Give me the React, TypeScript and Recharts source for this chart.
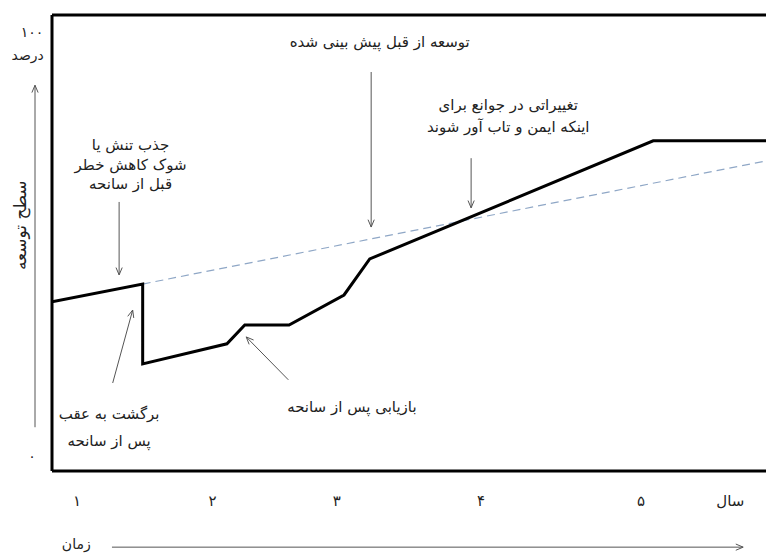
import React from 'react';
import { LineChart, Line, XAxis, YAxis, ReferenceLine, ReferenceDot } from 'recharts';

// Actual development path (time 0-100, level 0-100%)
const actualX = [0, 12.7, 12.7, 24.5, 27.0, 33.2, 40.9, 44.5, 84.2, 100];
const actualY = [37.1, 41.0, 23.5, 27.9, 32.0, 32.0, 38.6, 46.5, 72.4, 72.4];
// Previously planned development path
const plannedX = [12.7, 100];
const plannedY = [41.0, 68.0];

const xTickValues = [3.5, 22.5, 39.9, 60.1, 82.5, 95.0];
const xTickLabels = ['۱', '۲', '۳', '۴', '۵', 'سال'];
const yTickValues = [3.3, 96.3];
const yTickLabels = ['۰', '۱۰۰'];

// annotation texts: [x, y, text, rotate, size]
const noteTexts: [number, number, string, number, number][] = [
  [11.0, 71.5, 'جذب تنش یا', 0, 15],
  [11.0, 67.1, 'شوک کاهش خطر', 0, 15],
  [11.0, 63.0, 'قبل از سانحه', 0, 15],
  [45.9, 94.1, 'توسعه از قبل پیش بینی شده', 0, 15],
  [63.9, 80.3, 'تغییراتی در جوانع برای', 0, 15],
  [63.9, 75.4, 'اینکه ایمن و تاب آور شوند', 0, 15],
  [8.0, 12.5, 'برگشت به عقب', 0, 15],
  [8.0, 6.6, 'پس از سانحه', 0, 15],
  [42.0, 14.0, 'بازیابی پس از سانحه', 0, 15],
  [-4.5, 53.9, 'سطح توسعه', -90, 17],
  [3.4, -16.0, 'زمان', 0, 14],
  [-3.4, 91.2, 'درصد', 0, 14],
];

// annotation arrows: [x1, y1, x2, y2] (arrowhead at second point)
const noteArrows: [number, number, number, number][] = [
  [9.4, 59.0, 9.4, 43.0],
  [44.7, 87.5, 44.7, 53.5],
  [58.7, 68.6, 58.7, 57.7],
  [8.5, 19.3, 11.3, 35.3],
  [33.1, 20.0, 27.2, 29.4],
  [-2.38, 9.6, -2.38, 84.6],
  [8.4, -16.7, 96.8, -16.7],
];

const actualData = actualX.map((x, i) => ({ x, y: actualY[i] }));
const plannedData = plannedX.map((x, i) => ({ x, y: plannedY[i] }));

const FONT = 'DejaVu Sans';

const ArrowShape = (props: any) => {
  const { x1, y1, x2, y2 } = props;
  if ([x1, y1, x2, y2].some((v) => typeof v !== 'number' || isNaN(v))) return <g />;
  const ang = Math.atan2(y2 - y1, x2 - x1);
  const L = 8;
  const a1 = ang + Math.PI - 0.4;
  const a2 = ang + Math.PI + 0.4;
  const d = `M${x2 + L * Math.cos(a1)},${y2 + L * Math.sin(a1)} L${x2},${y2} L${x2 + L * Math.cos(a2)},${y2 + L * Math.sin(a2)}`;
  return (
    <g>
      <line x1={x1} y1={y1} x2={x2} y2={y2} stroke="#555" strokeWidth={1} />
      <path d={d} fill="none" stroke="#555" strokeWidth={1} />
    </g>
  );
};

const makeTextShape = (text: string, rotate: number, size: number) => (props: any) => {
  const { cx, cy } = props;
  return (
    <text
      x={cx}
      y={cy}
      textAnchor="middle"
      dominantBaseline="central"
      fontFamily={FONT}
      fontSize={size}
      fill="#222"
      transform={rotate ? `rotate(${rotate} ${cx} ${cy})` : undefined}
    >
      {text}
    </text>
  );
};

const XTick = (props: any) => {
  const { x, y, payload } = props;
  const i = xTickValues.indexOf(payload.value);
  return (
    <text x={x} y={y + 22} textAnchor="middle" dominantBaseline="central" fontFamily={FONT} fontSize={15} fill="#222">
      {xTickLabels[i]}
    </text>
  );
};

const YTick = (props: any) => {
  const { x, y, payload } = props;
  const i = yTickValues.indexOf(payload.value);
  return (
    <text x={x - 12} y={y} textAnchor="middle" dominantBaseline="central" fontFamily={FONT} fontSize={14} fill="#222">
      {yTickLabels[i]}
    </text>
  );
};

export default function App() {
  return (
    <div style={{ position: 'absolute', left: 0, top: 0, width: 766, height: 553, background: '#fff' }}>
      <LineChart width={766} height={553} margin={{ top: 15, right: 0, left: 0, bottom: 52 }}>
        <XAxis
          type="number"
          dataKey="x"
          domain={[0, 100]}
          ticks={xTickValues}
          tick={<XTick />}
          tickLine={false}
          axisLine={{ stroke: '#000', strokeWidth: 3 }}
          height={30}
          allowDataOverflow
        />
        <YAxis
          type="number"
          dataKey="y"
          domain={[0, 100]}
          ticks={yTickValues}
          tick={<YTick />}
          tickLine={false}
          axisLine={{ stroke: '#000', strokeWidth: 3 }}
          width={52}
          allowDataOverflow
        />
        <ReferenceLine y={100} stroke="#000" strokeWidth={3} />
        <Line
          data={plannedData}
          dataKey="y"
          type="linear"
          stroke="#8fa7c6"
          strokeWidth={1.2}
          strokeDasharray="8 5"
          dot={false}
          isAnimationActive={false}
        />
        <Line
          data={actualData}
          dataKey="y"
          type="linear"
          stroke="#000"
          strokeWidth={3}
          dot={false}
          isAnimationActive={false}
        />
        {noteArrows.map((a, i) => (
          <ReferenceLine
            key={'a' + i}
            segment={[{ x: a[0], y: a[1] }, { x: a[2], y: a[3] }]}
            ifOverflow="visible"
            shape={ArrowShape}
          />
        ))}
        {noteTexts.map((t, i) => (
          <ReferenceDot
            key={'t' + i}
            x={t[0]}
            y={t[1]}
            r={1}
            ifOverflow="visible"
            shape={makeTextShape(t[2], t[3], t[4])}
          />
        ))}
      </LineChart>
    </div>
  );
}
